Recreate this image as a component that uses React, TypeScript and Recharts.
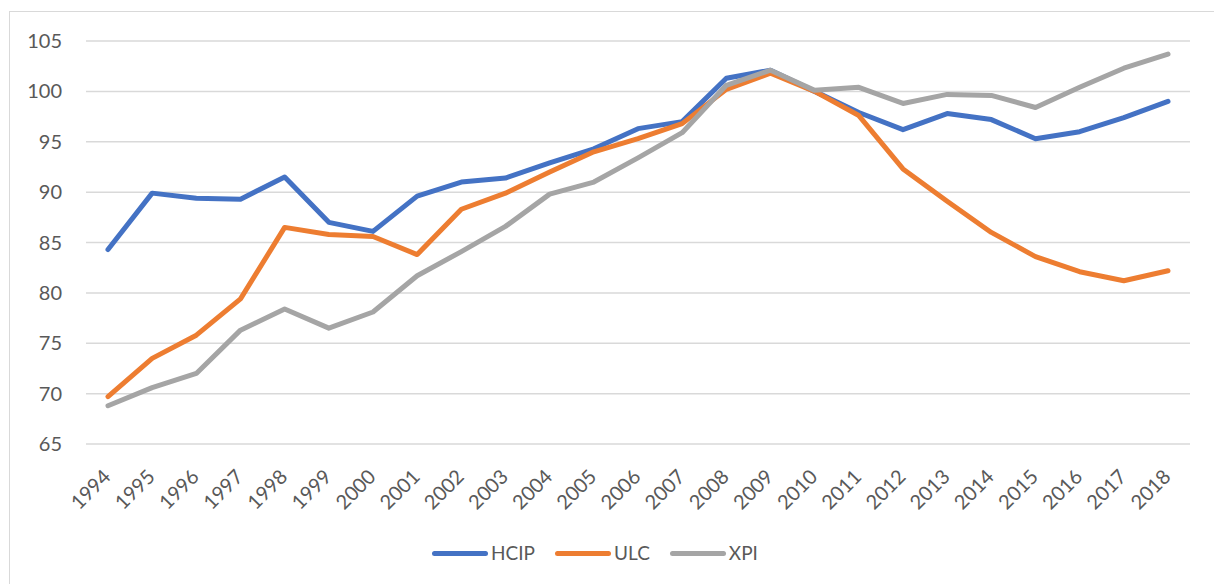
import { LineChart, Line, XAxis, YAxis, CartesianGrid, Legend } from 'recharts';

const years = [
    '1994', '1995', '1996', '1997', '1998', '1999', '2000', '2001', '2002', '2003', '2004', '2005', '2006',
    '2007', '2008', '2009', '2010', '2011', '2012', '2013', '2014', '2015', '2016', '2017', '2018',
];

const hcip = [
    84.3, 89.9, 89.4, 89.3, 91.5, 87.0, 86.1, 89.6, 91.0, 91.4, 92.9, 94.3, 96.3,
    97.0, 101.3, 102.1, 100.0, 97.9, 96.2, 97.8, 97.2, 95.3, 96.0, 97.4, 99.0,
];

const ulc = [
    69.7, 73.5, 75.8, 79.4, 86.5, 85.8, 85.6, 83.8, 88.3, 89.9, 92.0, 94.0, 95.3,
    96.8, 100.2, 101.8, 100.0, 97.6, 92.3, 89.1, 86.0, 83.6, 82.1, 81.2, 82.2,
];

const xpi = [
    68.8, 70.6, 72.0, 76.3, 78.4, 76.5, 78.1, 81.7, 84.1, 86.6, 89.8, 91.0, 93.4,
    95.9, 100.6, 102.1, 100.1, 100.4, 98.8, 99.7, 99.6, 98.4, 100.4, 102.3, 103.7,
];

const yTicks = [65, 70, 75, 80, 85, 90, 95, 100, 105];

const SERIES = [
    { key: 'HCIP', color: '#4472C4' },
    { key: 'ULC', color: '#ED7D31' },
    { key: 'XPI', color: '#A5A5A5' },
];

const FONT = 'Lato, "Open Sans", sans-serif';
const TEXT_COLOR = '#595959';

const data = years.map((year, i) => ({
    year,
    HCIP: hcip[i],
    ULC: ulc[i],
    XPI: xpi[i],
}));

const YearTick = ({ x, y, payload }: any) => (
    <text
        x={x + 4}
        y={y + 34}
        transform={`rotate(-45, ${x + 4}, ${y + 34})`}
        textAnchor="end"
        fill={TEXT_COLOR}
        style={{ fontSize: 20, fontFamily: FONT }}
    >
        {payload.value}
    </text>
);

const CustomLegend = () => (
    <div style={{ display: 'flex', justifyContent: 'center', alignItems: 'center', height: 24, gap: 20 }}>
        {SERIES.map((s) => (
            <div key={s.key} style={{ display: 'flex', alignItems: 'center', gap: 3 }}>
                <div style={{ width: 56, height: 5, borderRadius: 3, background: s.color }} />
                <span style={{ color: TEXT_COLOR, fontSize: 19, fontFamily: FONT, lineHeight: '24px' }}>{s.key}</span>
            </div>
        ))}
    </div>
);

export default function App() {
    return (
        <div style={{ position: 'absolute', left: 0, top: 0, width: 1214, height: 584, background: '#fff' }}>
            <div style={{
                position: 'absolute',
                left: 9,
                top: 11,
                right: 0,
                bottom: 0,
                borderTop: '1.5px solid #d9d9d9',
                borderLeft: '1.5px solid #d9d9d9',
            }} />
            <LineChart
                width={1214}
                height={584}
                data={data}
                margin={{ top: 41, right: 24, left: 0, bottom: 19 }}
                style={{ position: 'absolute', left: 0, top: 0 }}
            >
                <CartesianGrid vertical={false} stroke="#d9d9d9" strokeWidth={1.5} />
                <XAxis
                    dataKey="year"
                    interval={0}
                    height={97}
                    tick={<YearTick />}
                    tickLine={false}
                    axisLine={false}
                    tickSize={0}
                    tickMargin={0}
                    padding={{ left: 22, right: 22 }}
                />
                <YAxis
                    width={86}
                    domain={[65, 105]}
                    ticks={yTicks}
                    interval={0}
                    tickLine={false}
                    axisLine={false}
                    tickSize={0}
                    tickMargin={24}
                    tick={{ fill: TEXT_COLOR, fontSize: 20, fontFamily: FONT }}
                />
                <Legend verticalAlign="bottom" height={24} content={<CustomLegend />} />
                {SERIES.map((s) => (
                    <Line
                        key={s.key}
                        type="linear"
                        dataKey={s.key}
                        stroke={s.color}
                        strokeWidth={5}
                        strokeLinecap="round"
                        strokeLinejoin="round"
                        dot={false}
                        activeDot={false}
                        isAnimationActive={false}
                    />
                ))}
            </LineChart>
        </div>
    );
}
